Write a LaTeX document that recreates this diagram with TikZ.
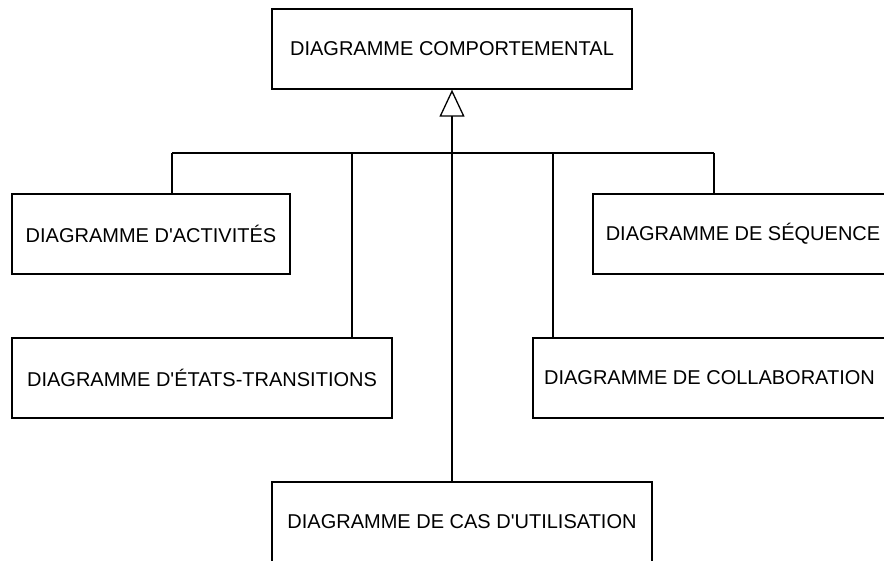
\documentclass[tikz,border=0pt]{standalone}
\usepackage{fontspec}
\setmainfont{Liberation Sans}
\usepackage{tikz}
\usetikzlibrary{arrows.meta, positioning, calc}

\begin{document}
\begin{tikzpicture}[
  x=1pt, y=-1pt, line width=1.3pt,
  diagbox/.style={draw, rectangle, minimum height=80pt, inner sep=0pt, font=\fontsize{20}{24}\selectfont},
  inherit/.style={-{Triangle[open, length=27pt, width=25pt]}}
]
  \clip (0,0) rectangle (884,560);
  \fill[white] (0,0) rectangle (884,560);

  % parent and children
  \node[diagbox, minimum width=360pt] (comport) at (452,49) {DIAGRAMME COMPORTEMENTAL};
  \node[diagbox, minimum width=278pt] (activ) at (151,234) {DIAGRAMME D\textquotesingle ACTIVITÉS};
  \node[diagbox, minimum width=300pt] (sequ) at (743,234) {DIAGRAMME DE SÉQUENCE};
  \node[diagbox, minimum width=380pt] (etats) at (202,378) {DIAGRAMME D\textquotesingle ÉTATS-TRANSITIONS};
  \node[diagbox, minimum width=353pt] (collab) at (709.5,378) {DIAGRAMME DE COLLABORATION};
  \node[diagbox, minimum width=380pt] (casutil) at (462,522) {DIAGRAMME DE CAS D\textquotesingle UTILISATION};

  % bus
  \coordinate (busA) at (172,153);
  \coordinate (busE) at (352,153);
  \coordinate (busC) at (553,153);
  \coordinate (busS) at (714,153);
  \draw (busA) -- (busS);
  \draw (busA) -- (busA |- activ.north);
  \draw (busE) -- (busE |- etats.north);
  \draw (busC) -- (busC |- collab.north);
  \draw (busS) -- (busS |- sequ.north);
  \draw[inherit] (comport.south |- casutil.north) -- (comport.south);
\end{tikzpicture}
\end{document}
